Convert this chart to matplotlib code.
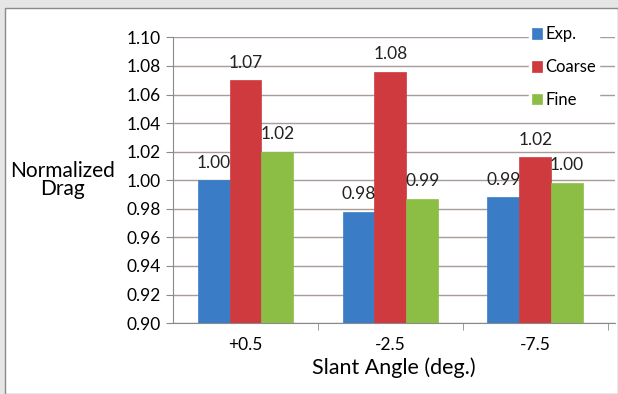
import numpy as np
import matplotlib.pyplot as plt
from matplotlib.patches import Rectangle

plt.rcParams['font.family'] = ['Lato', 'DejaVu Sans']

angles = ['+0.5', '-2.5', '-7.5']
exp_vals = [1.000, 0.978, 0.988]
coarse_vals = [1.070, 1.076, 1.016]
fine_vals = [1.020, 0.987, 0.998]
exp_labels = ['1.00', '0.98', '0.99']
coarse_labels = ['1.07', '1.08', '1.02']
fine_labels = ['1.02', '0.99', '1.00']

fig = plt.figure(figsize=(6.18, 3.94), dpi=100, facecolor='#e6e6e6')
# white panel behind everything
fig.patches.append(Rectangle((0.008, 0.0), 0.992, 0.98, transform=fig.transFigure,
                             facecolor='white', edgecolor='#8a8a8a', lw=1.0, zorder=-10))

ax = fig.add_axes([0.280, 0.180, 0.715, 0.725])
ax.set_facecolor('none')

x = np.arange(len(angles))
w = 0.22
series = [(exp_vals, exp_labels, '#3b7cc6', 'Exp.'),
          (coarse_vals, coarse_labels, '#cf3a3e', 'Coarse'),
          (fine_vals, fine_labels, '#8cbe45', 'Fine')]
for i, (vals, labs, col, name) in enumerate(series):
    pos = x + (i - 1) * w
    ax.bar(pos, np.array(vals) - 0.9, w, bottom=0.9, color=col,
           edgecolor=col, lw=0.5, label=name, zorder=3)
    for p, v, t in zip(pos, vals, labs):
        ax.annotate(t, (p, v), xytext=(0, 7), textcoords='offset points',
                    ha='center', va='bottom', fontsize=12.5, color='#222222', zorder=4)

ticks = np.arange(0.90, 1.101, 0.02)
ax.set_ylim(0.90, 1.10)
ax.set_yticks(ticks)
ax.set_yticklabels([f'{v:.2f}' for v in ticks])
ax.set_xlim(-0.5, 2.55)
ax.set_xticks(x)
ax.set_xticklabels(angles)
ax.set_xticks([0.5, 1.5, 2.5], minor=True)
ax.tick_params(axis='x', which='major', length=0, pad=10, labelsize=12.5)
ax.tick_params(axis='x', which='minor', length=5, color='#8a8a8a')
ax.tick_params(axis='y', length=5, color='#8a8a8a', labelsize=12.5, pad=4)
ax.yaxis.grid(True, color='#a89c98', lw=1.0, zorder=0)
ax.set_axisbelow(True)
for s in ['top', 'right']:
    ax.spines[s].set_visible(False)
ax.spines['left'].set_color('#8a8a8a')
ax.spines['bottom'].set_color('#8a8a8a')

ax.set_xlabel('Slant Angle (deg.)', fontsize=15.5, labelpad=3)
ax.set_ylabel('Normalized\nDrag', fontsize=15, rotation=0, labelpad=46, va='center',
              linespacing=0.9)

leg = ax.legend(loc='upper right', bbox_to_anchor=(0.965, 1.05), frameon=True,
                fontsize=12, handlelength=0.6, handleheight=0.6, handletextpad=0.2,
                labelspacing=1.0, borderpad=0.2, borderaxespad=0)
leg.get_frame().set_facecolor('white')
leg.get_frame().set_edgecolor('white')
leg.get_frame().set_alpha(1)

fig.savefig('out.png', dpi=100, facecolor=fig.get_facecolor())
